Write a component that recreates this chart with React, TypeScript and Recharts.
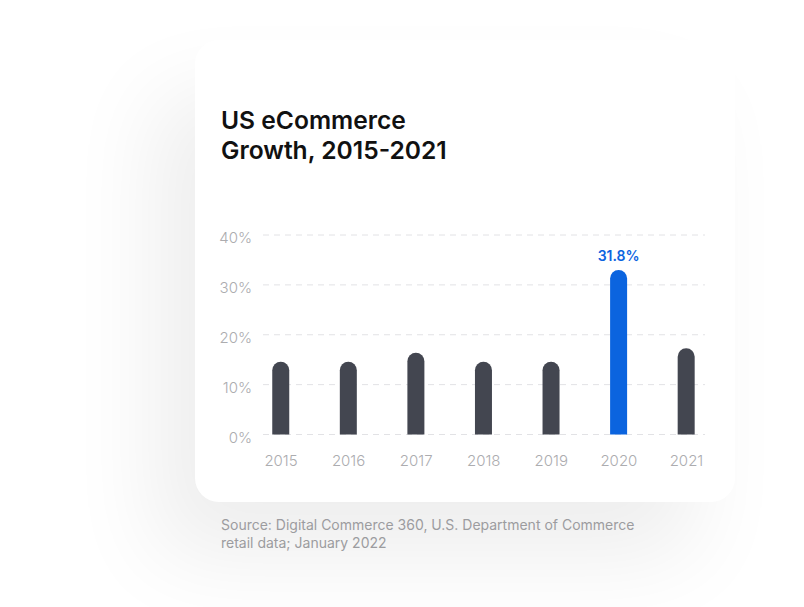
import { BarChart, Bar, XAxis, YAxis, CartesianGrid, Cell, LabelList } from "recharts";

// Años y crecimiento (%)
const years = ["2015", "2016", "2017", "2018", "2019", "2020", "2021"];
const growth = [14.6, 14.6, 16.4, 14.6, 14.6, 33.0, 17.3];
const highlightYear = "2020";
const highlightLabel = "31.8%";
const yTicks = [0, 10, 20, 30, 40];

const FONT = "Inter, 'Noto Sans', sans-serif";
const DARK = "#434650";
const BLUE = "#0b64df";
const TICK = "#acacaf";

const data = years.map((year, i) => ({ year, value: growth[i] }));

export default function App() {
  // etiqueta solo sobre la barra destacada
  const renderLabel = (props: any) => {
    const { x, y, width, index } = props;
    if (years[index] !== highlightYear) return null;
    return (
      <text
        x={x + width / 2}
        y={y - 9}
        textAnchor="middle"
        fill={BLUE}
        fontSize={14}
        fontWeight={600}
        fontFamily={FONT}
      >
        {highlightLabel}
      </text>
    );
  };

  return (
    <div
      style={{
        position: "absolute",
        left: 0,
        top: 0,
        width: 804,
        height: 607,
        background: "#ffffff",
        overflow: "hidden",
        fontFamily: FONT,
      }}
    >
      {/* tarjeta */}
      <div
        style={{
          position: "absolute",
          left: 195,
          top: 40,
          width: 540,
          height: 462,
          background: "#ffffff",
          borderRadius: 24,
          boxShadow: "-40px 55px 90px rgba(0,0,0,0.07)",
        }}
      />
      <div
        style={{
          position: "absolute",
          left: 221,
          top: 105,
          fontSize: 24.6,
          lineHeight: "30px",
          fontWeight: 600,
          color: "#111111",
        }}
      >
        US eCommerce
        <br />
        Growth, 2015-2021
      </div>

      <div style={{ position: "absolute", left: 0, top: 0 }}>
        <BarChart
          width={804}
          height={607}
          data={data}
          margin={{ top: 235, right: 99, bottom: 132.5, left: 0 }}
        >
          <CartesianGrid
            vertical={false}
            stroke="#e2e2e5"
            strokeDasharray="6 5"
          />
          <YAxis
            width={263}
            domain={[0, 40]}
            ticks={yTicks}
            tickFormatter={(v: number) => `${v}%`}
            axisLine={false}
            tickLine={false}
            tickSize={0}
            tickMargin={11}
            tick={{ fill: TICK, fontSize: 15, fontWeight: 300, fontFamily: FONT, dy: 3 }}
          />
          <XAxis
            dataKey="year"
            height={40}
            axisLine={false}
            tickLine={false}
            tickSize={0}
            tickMargin={21}
            padding={{ left: -15.75, right: -15.25 }}
            interval={0}
            tick={{ fill: TICK, fontSize: 15, fontWeight: 300, fontFamily: FONT }}
          />
          <Bar
            dataKey="value"
            barSize={17}
            radius={[8.5, 8.5, 0, 0]}
            isAnimationActive={false}
          >
            {data.map((d, i) => (
              <Cell key={`cell-${i}`} fill={d.year === highlightYear ? BLUE : DARK} />
            ))}
            <LabelList dataKey="value" content={renderLabel} />
          </Bar>
        </BarChart>
      </div>

      <div
        style={{
          position: "absolute",
          left: 221,
          top: 516,
          fontSize: 14,
          lineHeight: "18px",
          color: "#9c9c9f",
        }}
      >
        Source: Digital Commerce 360, U.S. Department of Commerce
        <br />
        retail data; January 2022
      </div>
    </div>
  );
}
